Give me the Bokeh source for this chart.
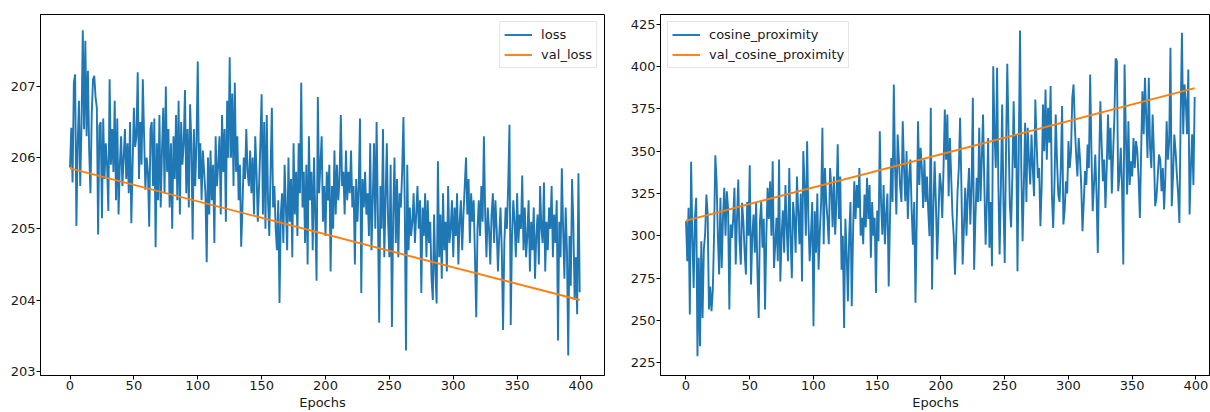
from bokeh.plotting import figure
from bokeh.layouts import row
from bokeh.models import Range1d, FixedTicker, Legend, LegendItem
from bokeh.embed import file_html
from bokeh.resources import INLINE

epochs = list(range(400))

loss = [
    205.86, 206.42, 205.65, 207.05, 207.17, 205.04, 206.20, 206.80, 205.60, 206.45, 207.79, 206.40, 207.64, 206.30, 207.22, 206.10, 205.50, 206.60, 207.10, 207.15,
    206.85, 206.70, 204.92, 206.45, 206.50, 205.15, 206.55, 205.70, 206.20, 205.90, 205.25, 207.10, 205.90, 206.40, 205.80, 206.80, 205.40, 206.55, 205.20, 205.90,
    206.30, 205.60, 206.00, 206.40, 205.70, 206.20, 205.50, 206.50, 205.08, 205.90, 206.70, 206.15, 206.30, 207.20, 205.70, 206.50, 205.90, 207.10, 206.30, 205.55,
    206.00, 205.80, 205.03, 206.40, 206.50, 205.60, 206.55, 204.74, 206.20, 205.40, 206.60, 205.30, 206.10, 206.70, 205.50, 207.00, 205.80, 206.40, 205.30, 206.20,
    205.00, 206.30, 205.70, 206.60, 205.40, 206.80, 205.20, 206.50, 205.90, 206.20, 206.95, 205.50, 206.40, 205.30, 206.75, 206.20, 204.85, 206.40, 205.60, 206.20,
    207.35, 205.70, 206.20, 205.40, 206.10, 205.80, 205.50, 204.53, 206.00, 205.20, 206.10, 205.40, 205.90, 204.80, 206.30, 205.60, 205.90, 206.30, 205.20, 206.60,
    205.80, 206.40, 205.10, 206.80, 206.00, 207.41, 206.00, 206.90, 205.60, 207.05, 205.80, 206.30, 205.40, 205.90, 204.75, 205.30, 206.00, 205.70, 206.40, 205.80,
    205.60, 206.10, 205.50, 206.00, 205.20, 206.30, 205.80, 205.10, 205.60, 206.20, 206.89, 205.20, 206.50, 205.00, 206.60, 205.40, 204.90, 205.80, 206.70, 205.30,
    205.60, 205.00, 204.70, 205.40, 203.96, 205.20, 205.50, 204.80, 205.90, 205.30, 204.70, 206.00, 205.10, 205.70, 204.60, 206.20, 205.20, 205.80, 204.90, 206.20,
    205.50, 207.05, 205.30, 205.80, 204.80, 205.90, 204.50, 206.30, 205.40, 205.80, 204.70, 206.00, 205.20, 204.27, 206.85, 205.50, 205.90, 206.30, 205.10, 205.60,
    204.90, 205.80, 205.40, 205.90, 204.40, 205.60, 205.00, 206.10, 205.20, 205.90, 205.40, 205.70, 206.60, 205.60, 205.80, 205.20, 206.10, 205.40, 205.80, 205.50,
    206.10, 205.30, 205.60, 204.50, 205.70, 205.10, 205.60, 206.55, 204.10, 205.70, 205.30, 205.80, 205.20, 205.50, 204.90, 206.20, 204.70, 205.40, 206.20, 205.00,
    206.50, 205.20, 203.68, 205.60, 205.00, 206.40, 204.60, 205.40, 206.20, 205.10, 204.60, 205.90, 203.62, 205.20, 206.00, 204.80, 205.70, 204.60, 205.50, 205.30,
    205.80, 206.57, 205.40, 203.29, 205.90, 204.70, 205.30, 204.90, 205.10, 205.50, 204.80, 205.20, 205.60, 205.00, 205.40, 204.10, 205.30, 204.90, 205.50, 204.60,
    205.40, 204.80, 205.10, 204.30, 204.00, 205.20, 204.40, 203.95, 205.95, 204.60, 205.20, 204.30, 205.50, 204.70, 205.10, 204.40, 205.60, 204.80, 205.00, 205.40,
    204.60, 205.30, 204.90, 205.50, 204.50, 205.10, 205.40, 204.70, 205.20, 205.60, 206.00, 205.20, 205.70, 204.80, 205.50, 205.10, 205.40, 204.60, 203.76, 205.00,
    205.40, 204.90, 205.60, 205.10, 206.30, 205.20, 204.60, 205.30, 205.00, 204.50, 205.20, 205.50, 204.80, 205.40, 205.00, 204.40, 204.90, 205.30, 204.70, 203.58,
    204.80, 205.30, 205.00, 205.60, 206.46, 203.65, 204.90, 205.40, 205.10, 204.60, 205.50, 204.80, 205.20, 205.00, 205.75, 204.70, 205.30, 204.60, 204.90, 205.40,
    204.40, 205.10, 204.70, 205.30, 204.30, 204.90, 205.20, 204.50, 205.60, 205.00, 204.80, 205.65, 204.40, 205.10, 204.70, 205.30, 205.00, 205.60, 204.60, 205.20,
    204.80, 205.40, 203.43, 205.10, 204.60, 205.85, 205.00, 204.30, 205.30, 204.70, 203.22, 204.90, 204.20, 205.70, 205.10, 204.00, 204.60, 203.80, 205.78, 204.11,
]

val_epochs = [0, 399]
val_loss = [205.85, 204.00]

cosine_proximity = [
    308.6, 285, 316.5, 253.5, 343.7, 300, 269.2, 310, 322.4, 228.9, 287, 234.8, 296.8, 251.5, 292, 300.8, 324.4, 312.6, 256.5, 270,
    255.5, 267.3, 300, 347.6, 332.2, 300, 277.1, 322.4, 281, 310, 328.3, 300, 326.3, 316.5, 256.5, 306.7, 298.8, 310, 328.3, 283,
    310, 333.2, 296.8, 283, 319.5, 308.6, 290, 277.1, 320, 300, 341.7, 271.2, 300, 312.6, 290, 320, 280, 251.5, 308.6, 320,
    292.9, 310, 256.5, 300, 328.3, 310, 332.2, 300, 344, 281, 294.8, 310.6, 285, 345, 273, 300, 315, 290, 330, 305,
    285, 340, 300, 275, 320, 310, 290, 335, 315, 295, 325, 273, 350, 330, 300, 355.9, 310, 285, 300.7, 320,
    246.6, 314.5, 290, 325, 280, 302.7, 320, 363.8, 295, 340, 320, 309.6, 295, 340, 328.3, 305, 335, 300.7, 320, 354,
    310, 335, 280, 300, 245.6, 310, 290, 261.4, 300, 320, 258.4, 300, 332.2, 310, 330, 316.5, 340, 300, 310.6, 295,
    324.4, 305, 334.2, 310, 330, 287, 320, 300, 310.6, 266.3, 315, 296.8, 361.8, 320, 300.7, 330, 295, 312.6, 325, 270,
    310, 346, 320, 389.4, 340, 312.6, 359.8, 345, 328.3, 320, 367.7, 340, 320.4, 350, 310, 334.2, 345, 315, 294.8, 320,
    260.4, 310, 367.7, 330, 352, 340, 316.5, 345, 320, 335, 315, 299.8, 375.6, 268.3, 315, 344, 320, 286, 310, 337,
    330, 310.6, 340, 374.6, 345, 371.6, 323.4, 357.8, 335, 312.6, 300, 277, 300, 326.3, 340, 369.7, 330, 283, 305, 328.3,
    300, 324.4, 340, 306.7, 330, 381.5, 280, 310, 334.2, 320, 363.8, 320.4, 345, 371.6, 330, 294.8, 320, 357.8, 292.9, 320,
    282, 400.2, 360, 340.1, 399.2, 330, 289, 330, 377.5, 320, 284, 350, 401.6, 360, 318.5, 305, 336.2, 379.5, 340, 360,
    279, 350, 421.2, 340, 296.8, 330, 366.7, 320, 363.8, 345, 330.3, 359.8, 340, 323.4, 380.5, 355, 334.2, 340, 305.7, 330,
    377.5, 350, 386.4, 345, 375.6, 355, 388.4, 324.4, 304.7, 330, 371.6, 345, 324.4, 320, 340.1, 376.6, 306.7, 315, 332.2, 325,
    355.9, 340.1, 350, 381.5, 389.4, 365, 348, 335, 357.8, 346, 330, 302.7, 320, 338.2, 330, 353.9, 340, 395.3, 350, 314.5,
    330, 348, 325, 289.9, 340, 379.5, 355, 332.2, 345, 316.5, 340, 371.6, 345, 363.8, 325, 348, 370, 404.7, 403.1, 326.3,
    335, 352, 330, 283, 401.2, 360, 324.4, 367.7, 330, 344, 335, 357.8, 340, 355.9, 350, 334.2, 310.6, 350, 385.4, 360,
    393.3, 370, 346, 393.3, 352, 340, 371.6, 350, 317.5, 322.4, 335, 348, 345, 326.3, 340, 315.5, 335, 367.7, 345, 355.9,
    411, 317.5, 335, 359.8, 350, 336.2, 325, 307.6, 371.6, 419.9, 360, 389.4, 379.5, 360, 398.2, 312.6, 340, 360, 330, 382,
]

val_cosine_proximity = [309.0, 387.2]

x_ticks = [0, 50, 100, 150, 200, 250, 300, 350, 400]
loss_ticks = [203, 204, 205, 206, 207]
cos_ticks = [225, 250, 275, 300, 325, 350, 375, 400, 425]

BLUE = "#1f77b4"
ORANGE = "#ff7f0e"
FONT = "DejaVu Sans"


def style(p, yticks):
    p.xgrid.visible = False
    p.ygrid.visible = False
    p.outline_line_color = "black"
    p.outline_line_width = 1
    p.background_fill_color = "white"
    p.border_fill_color = "white"
    p.xaxis.ticker = FixedTicker(ticks=x_ticks)
    p.yaxis.ticker = FixedTicker(ticks=yticks)
    p.xaxis.axis_label = "Epochs"
    for ax in p.axis:
        ax.axis_line_color = "black"
        ax.axis_line_width = 1
        ax.major_tick_line_color = "black"
        ax.major_tick_out = 4
        ax.major_tick_in = 0
        ax.minor_tick_line_color = None
        ax.major_label_text_font = FONT
        ax.major_label_text_font_size = "13px"
        ax.major_label_text_color = "#1a1a1a"
        ax.major_label_standoff = 1
        ax.axis_label_text_font = FONT
        ax.axis_label_text_font_size = "13px"
        ax.axis_label_text_font_style = "normal"
        ax.axis_label_text_color = "#1a1a1a"
        ax.axis_label_standoff = 2


def make_legend(items, location):
    leg = Legend(items=items, location=location)
    leg.margin = 7
    leg.padding = 4
    leg.spacing = 3
    leg.glyph_width = 28
    leg.glyph_height = 17
    leg.label_height = 17
    leg.label_standoff = 9
    leg.label_text_font = FONT
    leg.label_text_font_size = "13px"
    leg.label_text_color = "#1a1a1a"
    leg.border_line_color = "#cccccc"
    leg.border_line_width = 1
    leg.background_fill_color = "white"
    leg.background_fill_alpha = 0.8
    return leg


p1 = figure(width=627, height=412, output_backend="svg", toolbar_location=None,
            x_range=Range1d(-23.1, 418.4), y_range=Range1d(202.94, 208.01),
            min_border_left=40, min_border_right=23, min_border_top=14, min_border_bottom=37)
style(p1, loss_ticks)
r1 = p1.line(epochs, loss, line_color=BLUE, line_width=1.9)
r2 = p1.line(val_epochs, val_loss, line_color=ORANGE, line_width=1.9)
p1.add_layout(make_legend([LegendItem(label="loss", renderers=[r1]),
                           LegendItem(label="val_loss", renderers=[r2])], "top_right"))

p2 = figure(width=583, height=412, output_backend="svg", toolbar_location=None,
            x_range=Range1d(-20.0, 411.4), y_range=Range1d(217.5, 430.7),
            min_border_left=32, min_border_right=0, min_border_top=14, min_border_bottom=37)
style(p2, cos_ticks)
r3 = p2.line(epochs, cosine_proximity, line_color=BLUE, line_width=1.9)
r4 = p2.line(val_epochs, val_cosine_proximity, line_color=ORANGE, line_width=1.9)
p2.add_layout(make_legend([LegendItem(label="cosine_proximity", renderers=[r3]),
                           LegendItem(label="val_cosine_proximity", renderers=[r4])], "top_left"))

layout = row(p1, p2)
open("out.html", "w").write(file_html(layout, INLINE))
